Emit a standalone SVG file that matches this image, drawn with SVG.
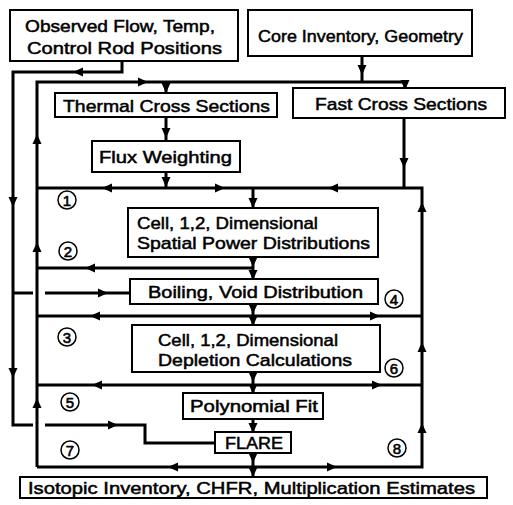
<svg xmlns="http://www.w3.org/2000/svg" xmlns:xlink="http://www.w3.org/1999/xlink" width="513" height="505" viewBox="0 0 513 505">
<style>
.box{fill:#fff;stroke:#000;stroke-width:2}
.t{font-family:"Liberation Sans","DejaVu Sans",sans-serif;font-size:17px;fill:#000;stroke:#000;stroke-width:0.5;text-anchor:start}
.c{fill:#000;stroke:none}
.ln{fill:none;stroke:#000;stroke-width:3;stroke-linejoin:miter}
.num{fill:#fff;stroke:#000;stroke-width:1.5}
.nt{font-family:"Liberation Sans","DejaVu Sans",sans-serif;font-size:15px;fill:#000;stroke:#000;stroke-width:0.6;text-anchor:middle}
</style>
<defs>
<path id="ar" d="M-5,-4.5 L5,0 L-5,4.5 Z"/>
</defs>
<rect width="513" height="505" fill="#fff"/>
<g id="connectors">
<path class="ln" d="M122,61 V72 H13 V425 H33"/>
<path class="ln" d="M45,425 H145 V443 H215"/>
<path class="ln" d="M13,293 H33"/>
<path class="ln" d="M45,293 H130"/>
<path class="ln" d="M362,56 V82"/>
<path class="ln" d="M37,467 V82 H405 V88"/>
<path class="ln" d="M166,82 V93"/>
<path class="ln" d="M166,117 V141"/>
<path class="ln" d="M166,172 V188"/>
<path class="ln" d="M37,188 H422 V467 H37"/>
<path class="ln" d="M404,118 V188"/>
<path class="ln" d="M253,188 V208"/>
<path class="ln" d="M253,257 V279"/>
<path class="ln" d="M37,268 H253"/>
<path class="ln" d="M253,304 V325"/>
<path class="ln" d="M37,316 H422"/>
<path class="ln" d="M253,372 V393"/>
<path class="ln" d="M37,385 H422"/>
<path class="ln" d="M253,419 V432"/>
<path class="ln" d="M253,453 V477"/>
<g class="c">
<use xlink:href="#ar" transform="translate(78,72) rotate(180)"/>
<use xlink:href="#ar" transform="translate(13,202) rotate(90)"/>
<use xlink:href="#ar" transform="translate(13,373) rotate(90)"/>
<use xlink:href="#ar" transform="translate(113,425)"/>
<use xlink:href="#ar" transform="translate(103,293)"/>
<use xlink:href="#ar" transform="translate(362,70) rotate(90)"/>
<use xlink:href="#ar" transform="translate(143,82)"/>
<use xlink:href="#ar" transform="translate(166,88) rotate(90)"/>
<use xlink:href="#ar" transform="translate(405,85) rotate(90)"/>
<use xlink:href="#ar" transform="translate(37,139) rotate(-90)"/>
<use xlink:href="#ar" transform="translate(37,247) rotate(-90)"/>
<use xlink:href="#ar" transform="translate(37,403) rotate(-90)"/>
<use xlink:href="#ar" transform="translate(166,133) rotate(90)"/>
<use xlink:href="#ar" transform="translate(166,182) rotate(90)"/>
<use xlink:href="#ar" transform="translate(107,188) rotate(180)"/>
<use xlink:href="#ar" transform="translate(220,188)"/>
<use xlink:href="#ar" transform="translate(333,188) rotate(180)"/>
<use xlink:href="#ar" transform="translate(404,163) rotate(90)"/>
<use xlink:href="#ar" transform="translate(253,203) rotate(90)"/>
<use xlink:href="#ar" transform="translate(422,207) rotate(-90)"/>
<use xlink:href="#ar" transform="translate(422,347) rotate(-90)"/>
<use xlink:href="#ar" transform="translate(422,428) rotate(-90)"/>
<use xlink:href="#ar" transform="translate(253,262) rotate(90)"/>
<use xlink:href="#ar" transform="translate(253,275) rotate(90)"/>
<use xlink:href="#ar" transform="translate(90,268) rotate(180)"/>
<use xlink:href="#ar" transform="translate(253,309) rotate(90)"/>
<use xlink:href="#ar" transform="translate(253,321) rotate(90)"/>
<use xlink:href="#ar" transform="translate(95,316) rotate(180)"/>
<use xlink:href="#ar" transform="translate(375,316)"/>
<use xlink:href="#ar" transform="translate(253,377) rotate(90)"/>
<use xlink:href="#ar" transform="translate(253,389) rotate(90)"/>
<use xlink:href="#ar" transform="translate(97,385) rotate(180)"/>
<use xlink:href="#ar" transform="translate(377,385)"/>
<use xlink:href="#ar" transform="translate(253,428) rotate(90)"/>
<use xlink:href="#ar" transform="translate(253,458) rotate(90)"/>
<use xlink:href="#ar" transform="translate(253,472) rotate(90)"/>
<use xlink:href="#ar" transform="translate(173,467) rotate(180)"/>
<use xlink:href="#ar" transform="translate(332,467)"/>
</g>
</g>
<g id="observed">
<rect class="box" x="10" y="10" width="228" height="51"/>
<text class="t" x="25" y="32" textLength="190" lengthAdjust="spacingAndGlyphs">Observed Flow, Temp,</text>
<text class="t" x="27" y="54" textLength="195" lengthAdjust="spacingAndGlyphs">Control Rod Positions</text>
</g>
<g id="core">
<rect class="box" x="248" y="10" width="224" height="46"/>
<text class="t" x="258" y="42" textLength="205" lengthAdjust="spacingAndGlyphs">Core Inventory, Geometry</text>
</g>
<g id="thermal">
<rect class="box" x="55" y="93" width="222" height="24"/>
<text class="t" x="63" y="112" textLength="207" lengthAdjust="spacingAndGlyphs">Thermal Cross Sections</text>
</g>
<g id="fast">
<rect class="box" x="293" y="88" width="212" height="30"/>
<text class="t" x="315" y="110" textLength="172" lengthAdjust="spacingAndGlyphs">Fast Cross Sections</text>
</g>
<g id="flux">
<rect class="box" x="92" y="141" width="148" height="31"/>
<text class="t" x="99" y="163" textLength="133" lengthAdjust="spacingAndGlyphs">Flux Weighting</text>
</g>
<g id="spatial">
<rect class="box" x="128" y="208" width="250" height="49"/>
<text class="t" x="137" y="229" textLength="181" lengthAdjust="spacingAndGlyphs">Cell, 1,2, Dimensional</text>
<text class="t" x="137" y="249" textLength="233" lengthAdjust="spacingAndGlyphs">Spatial Power Distributions</text>
</g>
<g id="boiling">
<rect class="box" x="130" y="279" width="248" height="25"/>
<text class="t" x="148" y="298" textLength="215" lengthAdjust="spacingAndGlyphs">Boiling, Void Distribution</text>
</g>
<g id="depletion">
<rect class="box" x="132" y="325" width="248" height="47"/>
<text class="t" x="158" y="346" textLength="180" lengthAdjust="spacingAndGlyphs">Cell, 1,2, Dimensional</text>
<text class="t" x="158" y="366" textLength="194" lengthAdjust="spacingAndGlyphs">Depletion Calculations</text>
</g>
<g id="poly">
<rect class="box" x="183" y="393" width="140" height="26"/>
<text class="t" x="190" y="412" textLength="128" lengthAdjust="spacingAndGlyphs">Polynomial Fit</text>
</g>
<g id="flare">
<rect class="box" x="215" y="432" width="76" height="21"/>
<text class="t" x="225" y="449" textLength="58" lengthAdjust="spacingAndGlyphs">FLARE</text>
</g>
<g id="isotopic">
<rect class="box" x="20" y="477" width="467" height="21"/>
<text class="t" x="28" y="494" textLength="447" lengthAdjust="spacingAndGlyphs">Isotopic Inventory, CHFR, Multiplication Estimates</text>
</g>
<g id="labels">
<circle class="num" cx="67" cy="200" r="9"/><text class="nt" x="67" y="205.5">1</text>
<circle class="num" cx="68" cy="251" r="9"/><text class="nt" x="68" y="256.5">2</text>
<circle class="num" cx="67" cy="337" r="9"/><text class="nt" x="67" y="342.5">3</text>
<circle class="num" cx="394" cy="299" r="9"/><text class="nt" x="394" y="304.5">4</text>
<circle class="num" cx="70" cy="402" r="9"/><text class="nt" x="70" y="407.5">5</text>
<circle class="num" cx="394" cy="368" r="9"/><text class="nt" x="394" y="373.5">6</text>
<circle class="num" cx="70" cy="450" r="9"/><text class="nt" x="70" y="455.5">7</text>
<circle class="num" cx="397" cy="448" r="9"/><text class="nt" x="397" y="453.5">8</text>
</g>
</svg>
